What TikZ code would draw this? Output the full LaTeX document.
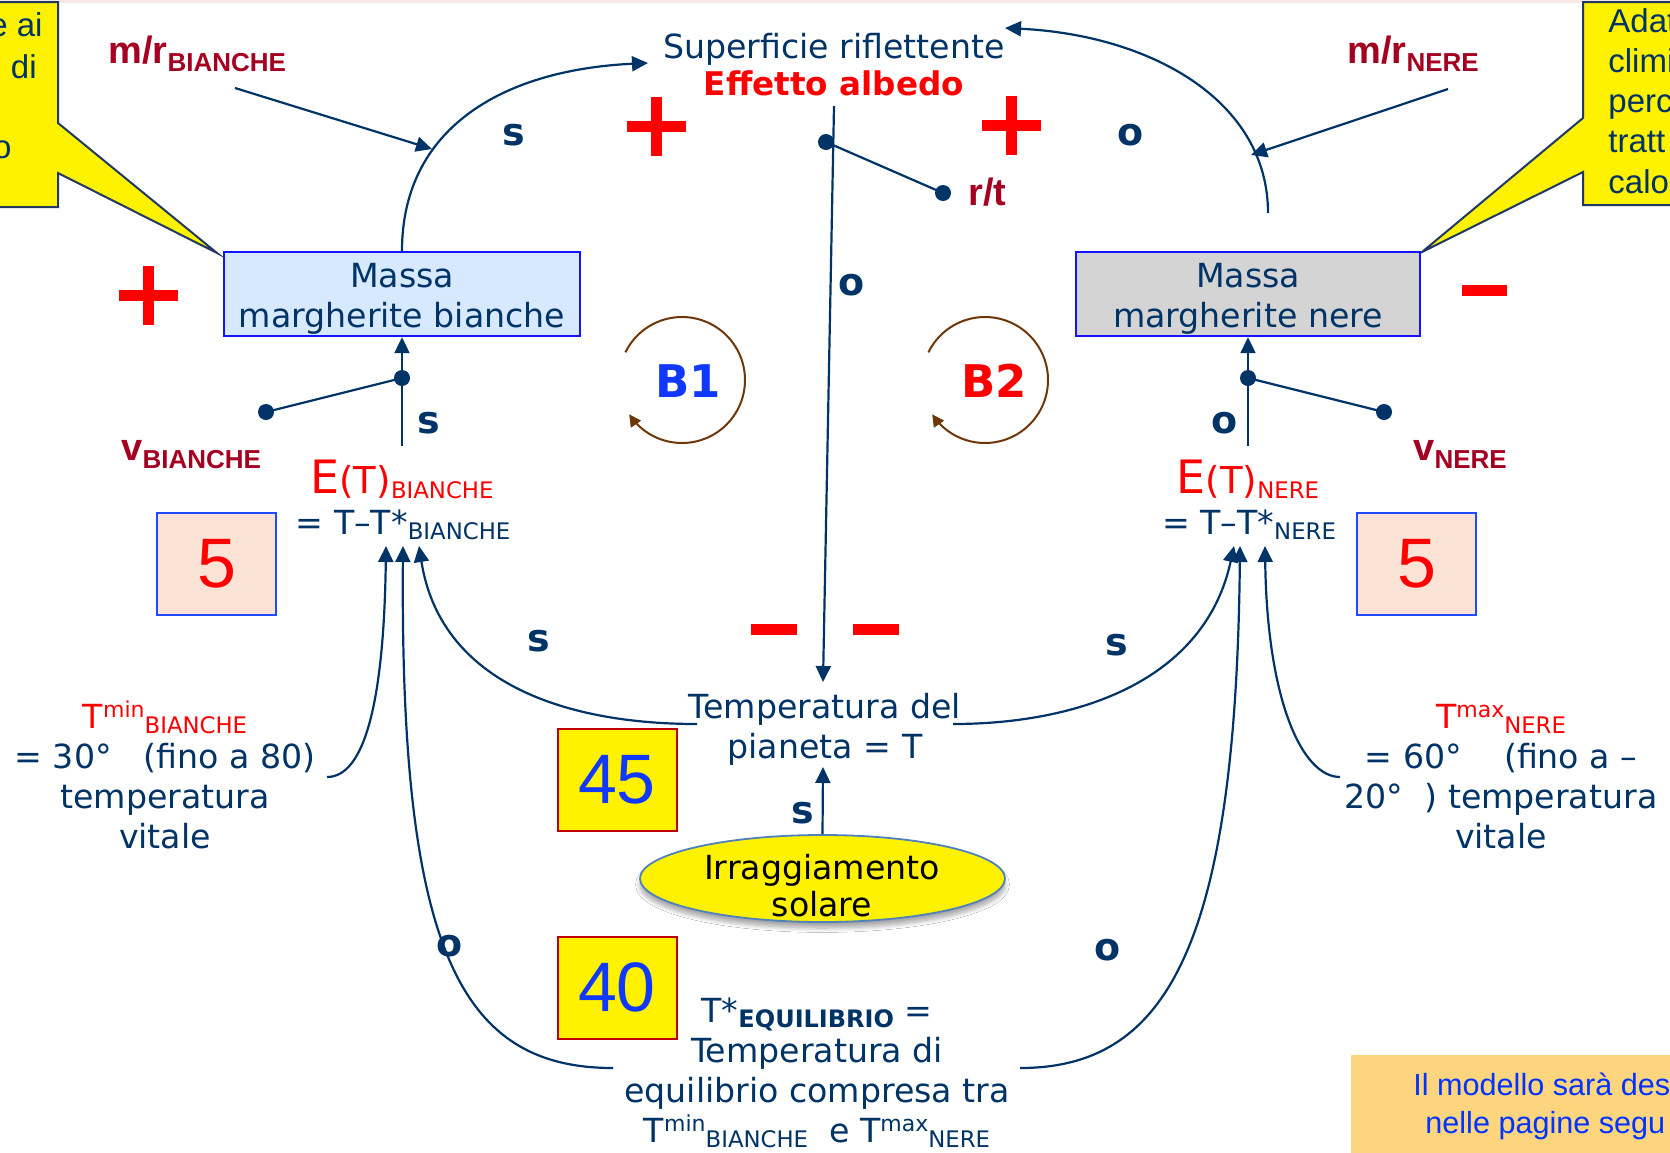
\documentclass[tikz,border=0pt]{standalone}
\usepackage{fontspec}
\setmainfont{DejaVu Sans}
\newfontfamily\arialfont{Liberation Sans}
\usetikzlibrary{arrows.meta,shapes.geometric,shadows.blur}

% colours
\definecolor{navyc}{RGB}{0,51,102}
\definecolor{labred}{RGB}{165,0,33}
\definecolor{boxblue}{RGB}{20,20,255}
\definecolor{boxblueb}{RGB}{31,73,255}
\definecolor{paleblue}{RGB}{214,233,255}
\definecolor{palegray}{RGB}{212,212,212}
\definecolor{peach}{RGB}{251,227,214}
\definecolor{numblue}{RGB}{16,56,255}
\definecolor{darkred}{RGB}{192,0,0}
\definecolor{loopbrown}{RGB}{110,55,10}
\definecolor{callline}{RGB}{31,56,100}
\definecolor{ellline}{RGB}{79,129,189}
\definecolor{notefill}{RGB}{253,213,126}
\definecolor{noteblue}{RGB}{0,51,255}
\definecolor{vivred}{RGB}{255,0,0}
\definecolor{topband}{RGB}{246,232,228}

% fonts
\newcommand\fm{\fontsize{16.6pt}{20pt}\selectfont}
\newcommand\fsub{\fontsize{11.4pt}{12pt}\selectfont}
\newcommand\fsup{\fontsize{11pt}{12pt}\selectfont}
\newcommand\flab{\fontsize{19pt}{20pt}\selectfont\bfseries}
\newcommand\fred{\arialfont\bfseries\fontsize{19pt}{20pt}\selectfont}
\newcommand\fredsub{\arialfont\bfseries\fontsize{13pt}{14pt}\selectfont}
\newcommand\fnum{\arialfont\fontsize{35pt}{38pt}\selectfont}
\newcommand\fcall{\arialfont\fontsize{16.5pt}{20pt}\selectfont}
\newcommand\fnote{\arialfont\fontsize{15.3pt}{19pt}\selectfont}
\newcommand\floop{\fontsize{22.5pt}{24pt}\selectfont\bfseries}
% struts and small raised / lowered text
\newcommand\st{\rule{0pt}{14pt}}
\newcommand\stbox{\rule{0pt}{17pt}}
\newcommand\lowtxt[1]{\raisebox{-2.5pt}{\fsub #1}}
\newcommand\hightxt[1]{\raisebox{5.5pt}{\fsup #1}}
\newcommand\lowred[1]{\raisebox{-4pt}{\fredsub #1}}

\begin{document}
\begin{tikzpicture}[x=0.5pt,y=-0.5pt,
  conn/.style={draw=navyc, line width=1.1pt},
  arr/.style={conn, -{Triangle[length=8pt,width=7.5pt]}},
  dot/.style={circle, fill=navyc, inner sep=0pt, minimum size=8pt},
  txt/.style={inner sep=0pt, text=navyc, font=\fm},
  pol/.style={inner sep=0pt, text=navyc, font=\flab},
  redlab/.style={inner sep=0pt, text=labred, font=\fred, anchor=base west},
  stock/.style={draw=boxblue, line width=1.2pt, inner sep=0pt, align=center,
    text=navyc, font=\fm, minimum height=42pt},
  numbox/.style={line width=1pt, inner sep=0pt, minimum width=59.5pt,
    minimum height=51pt, font=\fnum},
  signbar/.style={draw=vivred, line width=5.5pt},
  loopline/.style={draw=loopbrown, line width=1pt, -{Triangle[length=6pt,width=6pt]}},
  callout/.style={fill=yellow, draw=callline, line width=1pt, line join=miter},
  calltxt/.style={inner sep=0pt, text=navyc, font=\fcall}
]
\useasboundingbox (0,0) rectangle (1670,1152);
\clip (0,0) rectangle (1670,1152);
\fill[white] (0,0) rectangle (1670,1152);
\fill[topband] (0,0) rectangle (1670,3);

% ---- yellow comment callouts at the top corners
\path[callout] (-10,2) -- (58,2) -- (58,123) -- (217,253) -- (58,173)
  -- (58,207) -- (-10,207) -- cycle;
\node[calltxt, anchor=base east] (cl1) at (43,36) {e ai};
\node[calltxt, anchor=base east] (cl2) at (37,78) {di};
\node[calltxt, anchor=base east] (cl3) at (12,158) {o};

\path[callout] (1680,2) -- (1583,2) -- (1583,118) -- (1422,252) -- (1583,172)
  -- (1583,205) -- (1680,205) -- cycle;
\node[calltxt, anchor=base west] (cr1) at (1608,32) {Adat};
\node[calltxt, anchor=base west] (cr2) at (1608,72) {climi};
\node[calltxt, anchor=base west] (cr3) at (1608,112) {perc};
\node[calltxt, anchor=base west] (cr4) at (1608,152) {tratt};
\node[calltxt, anchor=base west] (cr5) at (1608,193) {calo};

% ---- note in the lower right corner
\fill[notefill] (1351,1055) rectangle (1680,1160);
\node[anchor=base west, inner sep=0pt, font=\fnote, text=noteblue] (note1) at (1413,1095) {Il modello sarà des};
\node[anchor=base west, inner sep=0pt, font=\fnote, text=noteblue] (note2) at (1425,1133) {nelle pagine segu};

% ---- stocks
\node[stock, fill=paleblue, minimum width=178pt] (mbi) at (402,294) {\stbox Massa\\margherite bianche};
\node[stock, fill=palegray, minimum width=172pt] (mne) at (1248,294) {\stbox Massa\\margherite nere};

% ---- variables
\node[txt, anchor=base] (sup) at (834,58) {Superficie riflettente};
\node[inner sep=0pt, anchor=base, text=vivred, font=\fontsize{16.3pt}{18pt}\selectfont\bfseries] (alb) at (834,95) {Effetto albedo};

\node[redlab] (mrb) at (108,63) {m/r\lowred{BIANCHE}};
\node[redlab] (mrn) at (1347,63) {m/r\lowred{NERE}};
\node[redlab] (rt) at (968,205) {r/t};
\node[redlab] (vb) at (121,460) {v\lowred{BIANCHE}};
\node[redlab] (vn) at (1413,460) {v\lowred{NERE}};

\node[txt, anchor=base, text=vivred] (etb) at (402,493)
  {{\fontsize{23pt}{24pt}\selectfont E}{\fontsize{18.5pt}{20pt}\selectfont(T)}\lowtxt{BIANCHE}};
\node[txt, anchor=base] (etbq) at (403,534) {= T–T*\lowtxt{BIANCHE}};
\node[txt, anchor=base, text=vivred] (etn) at (1248,493)
  {{\fontsize{23pt}{24pt}\selectfont E}{\fontsize{18.5pt}{20pt}\selectfont(T)}\lowtxt{NERE}};
\node[txt, anchor=base] (etnq) at (1249,534) {= T–T*\lowtxt{NERE}};

\node[txt, anchor=north, align=center] (temp) at (825,690) {\st Temperatura del\\pianeta = T};

\node[ellipse, draw=ellline, fill=yellow, line width=0.9pt, minimum width=182.5pt,
  minimum height=43.5pt, inner sep=0pt,
  blur shadow={shadow xshift=0pt, shadow yshift=-3pt, shadow opacity=35, shadow blur steps=8}]
  (irr) at (822.5,878.5) {};
\node[inner sep=0pt, anchor=north, align=center, text=black,
  font=\fontsize{16.6pt}{18.5pt}\selectfont] (irrt) at (822,851) {\st Irraggiamento\\solare};

\node[txt, anchor=north, align=center] (tmin) at (165,700)
  {\st{\color{vivred}T\hightxt{min}\lowtxt{BIANCHE}}\\= 30°\ \ \ (fino a 80)\\temperatura\\vitale};
\node[txt, anchor=north, align=center] (tmax) at (1501,700)
  {\st{\color{vivred}T\hightxt{max}\lowtxt{NERE}}\\= 60°\ \ \ \ (fino a –\\20°\ \ ) temperatura\\vitale};

\node[txt, anchor=north, align=center] (teq) at (817,994)
  {\st T*\lowtxt{\bfseries\fontsize{12pt}{12pt}\selectfont EQUILIBRIO} =\\Temperatura di\\equilibrio compresa tra\\T\hightxt{min}\lowtxt{BIANCHE}\ \ e T\hightxt{max}\lowtxt{NERE}};

% ---- parameter boxes
\node[numbox, fill=peach, draw=boxblueb, text=vivred] (n5a) at (216.5,564) {5};
\node[numbox, fill=peach, draw=boxblueb, text=vivred] (n5b) at (1416.5,564) {5};
\node[numbox, fill=yellow, draw=darkred, text=numblue] (n45) at (617,780) {45};
\node[numbox, fill=yellow, draw=darkred, text=numblue] (n40) at (617,987.5) {40};

% ---- connector end points
\coordinate (supL) at (648,63);
\coordinate (supR) at (1005,28);
\coordinate (mneT) at (1268,213);
\coordinate (mrbS) at (235,88);
\coordinate (mrbT) at (432,149);
\coordinate (mrnS) at (1448,89);
\coordinate (mrnT) at (1251,155);
\coordinate (albB) at (834,106);
\coordinate (tempT) at (823,682);
\coordinate (tempB) at (823,767);
\coordinate (tempL) at (697,724);
\coordinate (tempR) at (953,724);
\coordinate (etbT) at (402,446);
\coordinate (etnT) at (1248,446);
\coordinate (etbA) at (386,546);
\coordinate (etbB) at (403,546);
\coordinate (etbC) at (419,546);
\coordinate (etnA) at (1234,546);
\coordinate (etnB) at (1240,546);
\coordinate (etnC) at (1265,546);
\coordinate (tminR) at (327,777);
\coordinate (tmaxL) at (1340,777);
\coordinate (teqL) at (613,1068);
\coordinate (teqR) at (1020,1068);

% ---- links
\draw[arr] (mbi.north) .. controls (402,130) and (500,70) .. (supL);
\draw[arr] (mneT) .. controls (1268,100) and (1150,35) .. (supR);
\draw[arr] (mrbS) -- (mrbT);
\draw[arr] (mrnS) -- (mrnT);
\draw[arr] (albB) -- (tempT);
\draw[arr] (etbT) -- (mbi.south);
\draw[arr] (etnT) -- (mne.south);
\draw[arr] (tempL) .. controls (560,724) and (440,680) .. (etbC);
\draw[arr] (tempR) .. controls (1080,724) and (1205,680) .. (etnA);
\draw[arr] (tminR) .. controls (365,777) and (384,700) .. (etbA);
\draw[arr] (tmaxL) .. controls (1302,777) and (1267,700) .. (etnC);
\draw[arr] (teqL) .. controls (460,1068) and (400,950) .. (etbB);
\draw[arr] (teqR) .. controls (1165,1068) and (1236,950) .. (etnB);
\draw[arr] (irr.north) -- (tempB);

% valves (rate controls) on the links
\node[dot] (rtJ) at (826,142) {};
\node[dot] (rtD) at (943,193) {};
\node[dot] (vbJ) at (402,378) {};
\node[dot] (vbD) at (266,412) {};
\node[dot] (vnJ) at (1248,378) {};
\node[dot] (vnD) at (1384,412) {};
\draw[conn] (rtJ.center) -- (rtD.center);
\draw[conn] (vbJ.center) -- (vbD.center);
\draw[conn] (vnJ.center) -- (vnD.center);

% ---- link polarities
\node[pol] (p1) at (514,135) {s};
\node[pol] (p2) at (1131,135) {o};
\node[pol] (p3) at (852,285) {o};
\node[pol] (p4) at (429,423) {s};
\node[pol] (p5) at (1225,423) {o};
\node[pol] (p6) at (539,641) {s};
\node[pol] (p7) at (1117,645) {s};
\node[pol] (p8) at (803,813) {s};
\node[pol] (p9) at (450,946) {o};
\node[pol] (p10) at (1108,950) {o};

% ---- plus and minus signs
\draw[signbar] (626.5,126) -- (685.5,126) (656,96.5) -- (656,155.5);
\draw[signbar] (981.5,125) -- (1040.5,125) (1011,95.5) -- (1011,154.5);
\draw[signbar] (118.5,295) -- (177.5,295) (148,265.5) -- (148,324.5);
\draw[signbar] (1462,290) -- (1507,290);
\draw[signbar] (751,629) -- (797,629);
\draw[signbar] (853,629) -- (899,629);

% ---- balancing loops
\draw[loopline, domain=154:-147, samples=90, variable=\t]
  plot ({682+63*cos(\t)}, {380-63*sin(\t)});
\draw[loopline, domain=154:-147, samples=90, variable=\t]
  plot ({985+63*cos(\t)}, {380-63*sin(\t)});
\node[inner sep=0pt, font=\floop, text=numblue] (b1) at (688,381) {B1};
\node[inner sep=0pt, font=\floop, text=vivred] (b2) at (994,381) {B2};
\end{tikzpicture}
\end{document}
